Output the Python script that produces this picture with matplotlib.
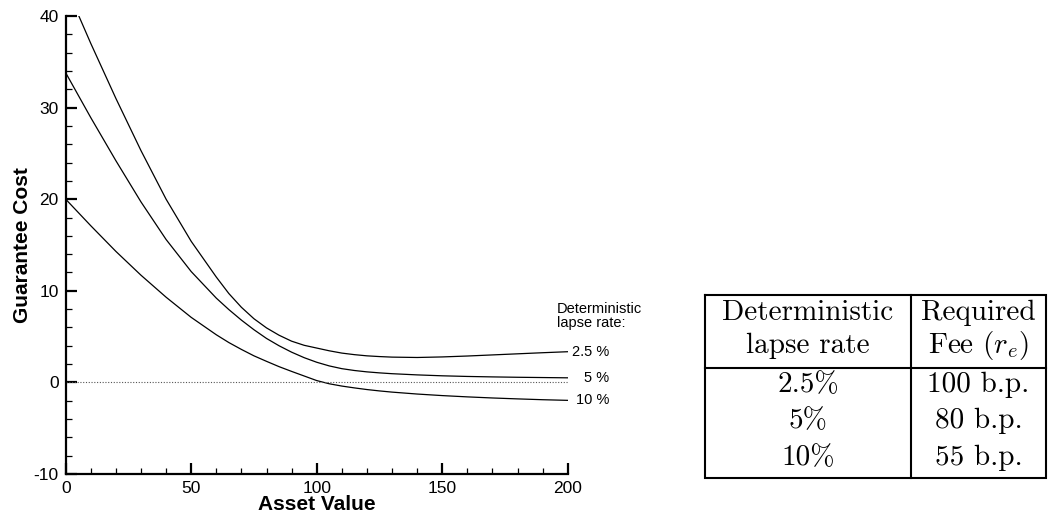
import matplotlib
matplotlib.use('Agg')
import matplotlib.pyplot as plt
from matplotlib.ticker import MultipleLocator

# curve values
asset = [0, 10, 20, 30, 40, 50, 60, 65, 70, 75, 80, 85, 90, 95, 100,
         105, 110, 115, 120, 125, 130, 140, 150, 160, 170, 180, 190, 200]
cost_25 = [43.3, 37.0, 31.0, 25.3, 20.0, 15.4, 11.5, 9.7, 8.2, 6.95, 5.95, 5.15, 4.5, 4.05, 3.75,
           3.45, 3.2, 3.03, 2.9, 2.82, 2.76, 2.72, 2.78, 2.88, 3.0, 3.12, 3.24, 3.35]
cost_5 = [33.8, 28.9, 24.2, 19.7, 15.6, 12.1, 9.2, 7.95, 6.8, 5.75, 4.8, 4.0, 3.3, 2.7, 2.2,
          1.8, 1.5, 1.3, 1.15, 1.04, 0.95, 0.82, 0.72, 0.65, 0.6, 0.56, 0.53, 0.5]
cost_10 = [20.0, 17.1, 14.3, 11.7, 9.3, 7.1, 5.2, 4.35, 3.6, 2.9, 2.3, 1.72, 1.2, 0.7, 0.2,
           -0.15, -0.4, -0.6, -0.78, -0.93, -1.06, -1.27, -1.44, -1.58, -1.7, -1.8, -1.89, -1.96]
curve_labels = ['2.5 %', '5 %', '10 %']

# table content
table_header = [['Deterministic', 'lapse rate'], ['Required', 'Fee ($r_e$)']]
table_rates = ['2.5%', '5%', '10%']
table_fees = ['100 b.p.', '80 b.p.', '55 b.p.']

plt.rcParams['font.family'] = ['Liberation Sans', 'DejaVu Sans']
plt.rcParams['mathtext.fontset'] = 'cm'
plt.rcParams['axes.unicode_minus'] = False

W, H = 1048, 515
fig = plt.figure(figsize=(W / 100, H / 100), dpi=100)
ax = fig.add_axes([65.7 / W, 1 - 474 / H, (567.7 - 65.7) / W, (474 - 16) / H])

for ys in (cost_25, cost_5, cost_10):
    ax.plot(asset, ys, color='black', lw=0.9)
ax.plot([asset[0], asset[-1]], [0, 0], color='#555555', lw=0.8, ls=(0, (1, 1.5)))

ax.set_xlim(0, 200)
ax.set_ylim(-10, 40)
ax.spines['top'].set_visible(False)
ax.spines['right'].set_visible(False)
ax.spines['left'].set_linewidth(1.6)
ax.spines['bottom'].set_linewidth(1.6)
ax.xaxis.set_major_locator(MultipleLocator(50))
ax.xaxis.set_minor_locator(MultipleLocator(10))
ax.yaxis.set_major_locator(MultipleLocator(10))
ax.yaxis.set_minor_locator(MultipleLocator(2))
ax.tick_params(which='major', direction='in', length=8, width=1.6, labelsize=12.5, pad=5)
ax.tick_params(which='minor', direction='in', length=4.5, width=0.9)
ax.set_xlabel('Asset Value', fontsize=15, fontweight='bold', labelpad=-1)
ax.set_ylabel('Guarantee Cost', fontsize=15, fontweight='bold', labelpad=1)

ax.text(195.6, 7.2, 'Deterministic\nlapse rate:', fontsize=10.5, ha='left', va='center',
        linespacing=1.0)
ends = [cost_25[-1], cost_5[-1], cost_10[-1]]
for lab, yv in zip(curve_labels, ends):
    ax.text(216.5, yv, lab, fontsize=10.5, ha='right', va='center')

# table drawn in pixel coordinates
tx = fig.add_axes([0, 0, 1, 1])
tx.set_xlim(0, W)
tx.set_ylim(H, 0)
tx.axis('off')
left, mid, right = 705, 911, 1046
top, sep, bot = 295, 368, 478
lw = 1.5
tx.plot([left, right, right, left, left], [top, top, bot, bot, top], color='black', lw=lw,
        clip_on=False, solid_joinstyle='miter')
tx.plot([left, right], [sep, sep], color='black', lw=lw)
tx.plot([mid, mid], [top, bot], color='black', lw=lw)

tfont = dict(family=['cmr10', 'DejaVu Serif'], fontsize=21, ha='center', va='center')
c1 = (left + mid) / 2
c2 = (mid + right) / 2
hy = [313, 346]
for i in range(2):
    tx.text(c1, hy[i], table_header[0][i], **tfont)
    tx.text(c2, hy[i], table_header[1][i], **tfont)
ry = [385, 421, 458]
for i in range(3):
    tx.text(c1, ry[i], table_rates[i], **tfont)
    tx.text(c2, ry[i], table_fees[i], **tfont)

fig.savefig('out.png', dpi=100)
